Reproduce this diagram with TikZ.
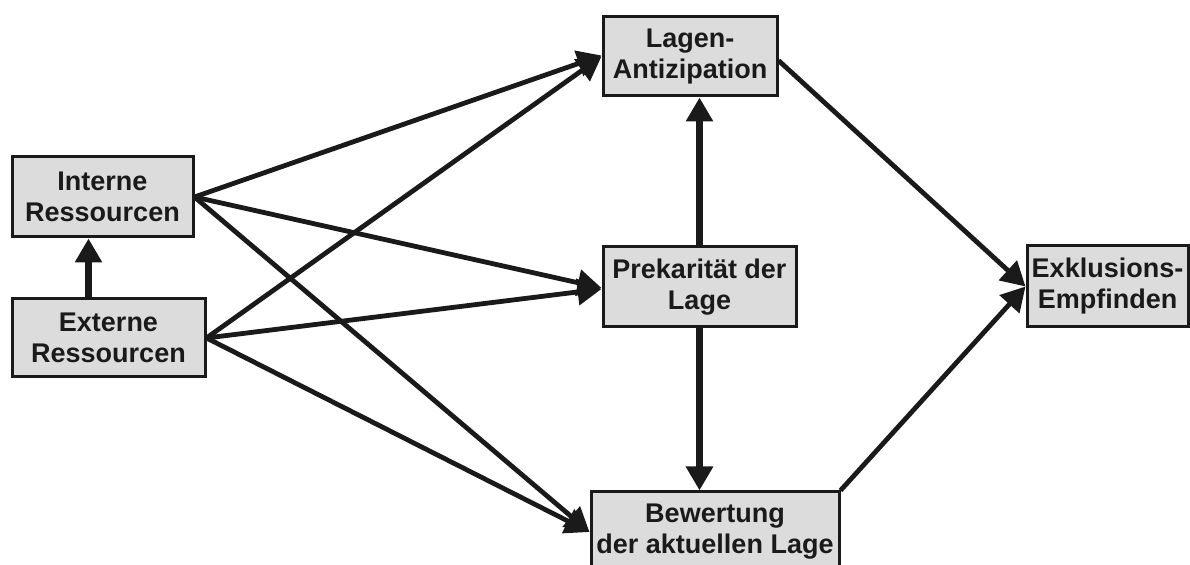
\documentclass[tikz,border=0pt]{standalone}
\usepackage{fontspec}
\setmainfont{Liberation Sans}
\usetikzlibrary{arrows.meta}
\definecolor{boxfill}{HTML}{DCDCDC}
\definecolor{ink}{HTML}{1A1A1A}
\tikzset{
  box/.style={draw=ink, fill=boxfill, line width=1.5pt, align=center,
    font=\fontsize{13.5}{15.5}\selectfont\bfseries, text=ink, inner sep=0pt},
  arr/.style={draw=ink, line width=2.4pt, -{Triangle[length=12pt,width=13pt]}},
  varr/.style={arr, line width=3.2pt},
}
\begin{document}
\begin{tikzpicture}[x=0.5pt,y=-0.5pt]
\useasboundingbox (0,0) rectangle (1190,565);
\begin{scope}
\clip (0,0) rectangle (1190,565);
\node[box, minimum width=90.5pt, minimum height=40pt] (int) at (102.5,197) {Interne\\Ressourcen};
\node[box, minimum width=96.5pt, minimum height=39pt] (ext) at (108.5,338) {Externe\\Ressourcen};
\node[box, minimum width=87pt, minimum height=39.5pt] (lag) at (690,56.5) {Lagen-\\Antizipation};
\node[box, minimum width=96.5pt, minimum height=40pt] (pre) at (699.5,287) {Prekarität der\\Lage};
\node[box, minimum width=124pt, minimum height=40pt] (bew) at (715,532) {Bewertung\\der aktuellen Lage};
\node[box, minimum width=80.5pt, minimum height=40.5pt] (exk) at (1107.5,286.5) {Exklusions-\\Empfinden};

\draw[varr] ([xshift=-10pt]ext.north) -- ([xshift=-10pt]ext.north |- int.south);
\draw[arr] (int.east) -- ([yshift=0.5pt]lag.west);
\draw[arr] (int.east) -- ([yshift=-0.5pt]pre.west);
\draw[arr] (int.east) -- (bew.west);
\draw[arr] (ext.east) -- (lag.west);
\draw[arr] (ext.east) -- ([yshift=-1pt]pre.west);
\draw[arr] (ext.east) -- (bew.west);
\draw[varr] (pre.north) -- (pre.north |- lag.south);
\draw[varr] (pre.south) -- (pre.south |- bew.north);
\draw[arr] ([yshift=-2pt]lag.east) -- (exk.west);
\draw[arr] (bew.north east) -- (exk.west);
\end{scope}
\end{tikzpicture}
\end{document}
